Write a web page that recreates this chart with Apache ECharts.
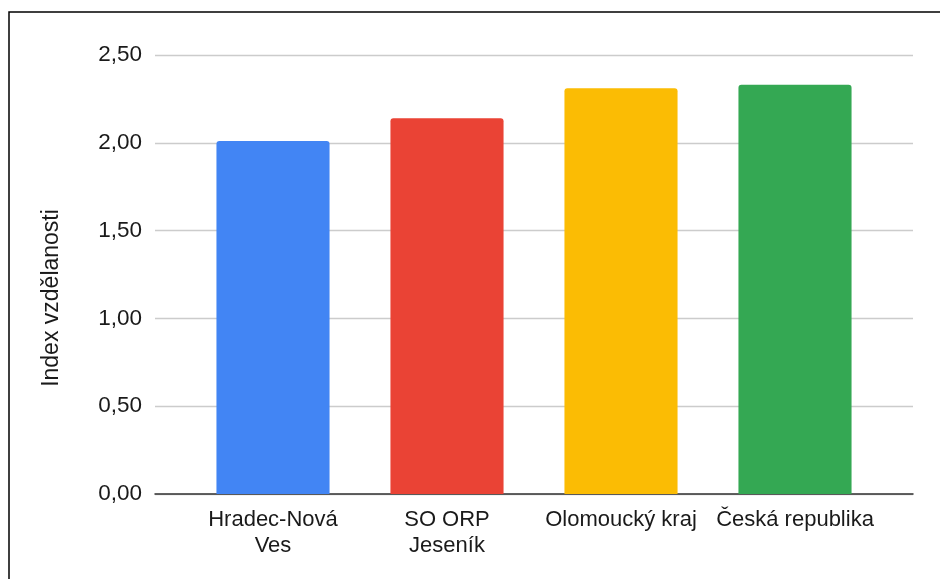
<!DOCTYPE html>
<html>
<head>
<meta charset="utf-8">
<script src="https://cdn.jsdelivr.net/npm/echarts@6/dist/echarts.min.js"></script>
<style>
html,body{margin:0;padding:0;background:#fff;}
#chart{width:940px;height:579px;}
</style>
</head>
<body>
<div id="chart"></div>
<script>
var categories = ['Hradec-Nová\nVes', 'SO ORP\nJeseník', 'Olomoucký kraj', 'Česká republika'];
var values = [2.01, 2.14, 2.31, 2.33];
var barColors = ['#4285F4', '#EA4335', '#FBBC04', '#34A853'];
var yAxisTitle = 'Index vzdělanosti';
var yMin = 0, yMax = 2.5, yStep = 0.5;

var chart = echarts.init(document.getElementById('chart'));
var font = 'Liberation Sans, Arial, sans-serif';
chart.setOption({
  animation: false,
  grid: [
    {left: 186, right: 58, top: 55, bottom: 85, containLabel: false},
    {left: 155, right: 27, top: 55, bottom: 85, containLabel: false}
  ],
  graphic: [
    {type: 'rect', shape: {x: 9, y: 12, width: 1000, height: 1000},
     style: {fill: 'none', stroke: '#000', lineWidth: 1.5}, z: 100},
    {type: 'text', x: 52, y: 298, rotation: Math.PI / 2,
     style: {text: yAxisTitle, font: '23px ' + font, fill: '#1a1a1a',
             textAlign: 'center', textVerticalAlign: 'middle'}}
  ],
  xAxis: [
    {
      type: 'category', gridIndex: 0,
      data: categories,
      axisLine: {show: false},
      axisTick: {show: false},
      axisLabel: {color: '#1a1a1a', fontSize: 22, fontFamily: font, lineHeight: 26, margin: 13, interval: 0}
    },
    {
      type: 'value', gridIndex: 1, min: 0, max: 1,
      axisLine: {show: true, onZero: false, lineStyle: {color: '#333', width: 1.5}},
      axisTick: {show: false}, axisLabel: {show: false}, splitLine: {show: false}
    }
  ],
  yAxis: [
    {
      type: 'value', gridIndex: 0, min: yMin, max: yMax, interval: yStep,
      axisLine: {show: false}, axisTick: {show: false},
      axisLabel: {show: false}, splitLine: {show: false}
    },
    {
      type: 'value', gridIndex: 1, min: yMin, max: yMax, interval: yStep,
      axisLine: {show: false},
      axisTick: {show: false},
      splitLine: {lineStyle: {color: '#ccc', width: 1.3}},
      axisLabel: {color: '#1a1a1a', fontSize: 22.5, fontFamily: font, margin: 13,
        formatter: function (v) { return v.toFixed(2).replace('.', ','); }}
    }
  ],
  series: [{
    type: 'bar',
    xAxisIndex: 0, yAxisIndex: 0,
    barWidth: '65%',
    z: 3,
    data: values.map(function (v, i) {
      return {value: v, itemStyle: {color: barColors[i], borderRadius: [3, 3, 0, 0]}};
    })
  }]
});
</script>
</body>
</html>
